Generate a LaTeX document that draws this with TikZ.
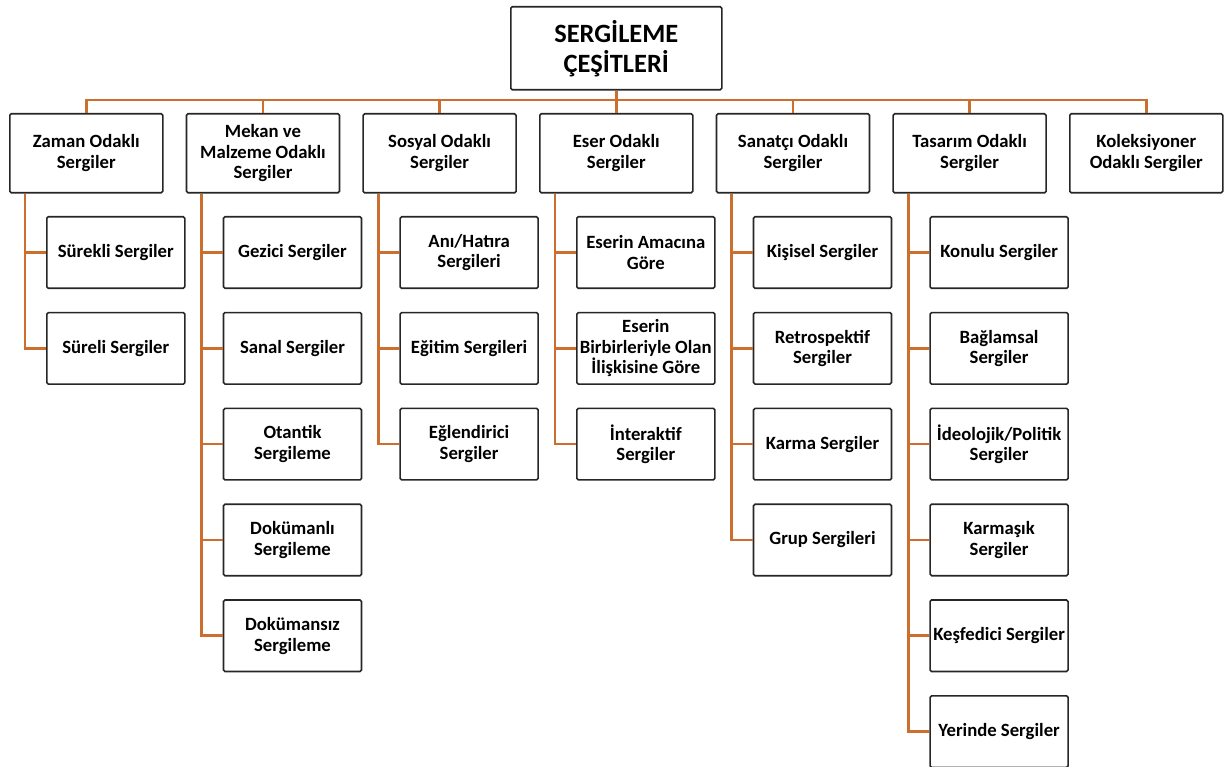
\documentclass[tikz,border=0pt]{standalone}
\usepackage{fontspec}
\setmainfont{Carlito}
\begin{document}
\begin{tikzpicture}[x=1pt,y=-1pt,
  box/.style={draw=black!85,line width=1.6pt,rounded corners=1.5pt,fill=white,align=center,
    anchor=north west,inner sep=1pt,font=\fontsize{18.7}{20.6}\selectfont\bfseries},
  top/.style={box,minimum width=153pt,minimum height=79pt},
  kid/.style={box,minimum width=138pt,minimum height=71.5pt},
  conn/.style={draw={rgb,255:red,204;green,110;blue,46},line width=2.6pt}]
\useasboundingbox (0,0) rectangle (1226,767);
\coordinate (bus) at (0,100);
% root
\node[box,minimum width=211pt,minimum height=83pt,font=\fontsize{26.4}{30}\selectfont\bfseries] (root) at (510,6) {SERGİLEME\\ÇEŞİTLERİ};
% top row
\node[top] (Z) at (9,113) {Zaman Odaklı\\Sergiler};
\node[top] (M) at (185.7,113) {Mekan ve\\Malzeme Odaklı\\Sergiler};
\node[top] (S) at (362.3,113) {Sosyal Odaklı\\Sergiler};
\node[top] (E) at (539,113) {Eser Odaklı\\Sergiler};
\node[top] (A) at (715.7,113) {Sanatçı Odaklı\\Sergiler};
\node[top] (T) at (892.3,113) {Tasarım Odaklı\\Sergiler};
\node[top] (K) at (1069,113) {Koleksiyoner\\Odaklı Sergiler};
% bus
\draw[conn] (Z.north) -- (Z.north |- bus) -- (K.north |- bus) -- (K.north);
\foreach \n in {M,S,A,T} \draw[conn] (\n.north) -- (\n.north |- bus);
\draw[conn] (root.south) -- (E.north);
% children Zaman
\node[kid] (Z1) at (46,216) {Sürekli Sergiler};
\node[kid] (Z2) at (46,311.8) {Süreli Sergiler};
% Mekan
\node[kid] (M1) at (222.7,216) {Gezici Sergiler};
\node[kid] (M2) at (222.7,311.8) {Sanal Sergiler};
\node[kid] (M3) at (222.7,407.6) {Otantik\\Sergileme};
\node[kid] (M4) at (222.7,503.4) {Dokümanlı\\Sergileme};
\node[kid] (M5) at (222.7,599.2) {Dokümansız\\Sergileme};
% Sosyal
\node[kid] (S1) at (399.3,216) {Anı/Hatıra\\Sergileri};
\node[kid] (S2) at (399.3,311.8) {Eğitim Sergileri};
\node[kid] (S3) at (399.3,407.6) {Eğlendirici\\Sergiler};
% Eser
\node[kid] (E1) at (576,216) {Eserin Amacına\\Göre};
\node[kid] (E2) at (576,311.8) {Eserin\\Birbirleriyle Olan\\İlişkisine Göre};
\node[kid] (E3) at (576,407.6) {İnteraktif\\Sergiler};
% Sanatci
\node[kid] (A1) at (752.7,216) {Kişisel Sergiler};
\node[kid] (A2) at (752.7,311.8) {Retrospektif\\Sergiler};
\node[kid] (A3) at (752.7,407.6) {Karma Sergiler};
\node[kid] (A4) at (752.7,503.4) {Grup Sergileri};
% Tasarim
\node[kid] (T1) at (929.3,216) {Konulu Sergiler};
\node[kid] (T2) at (929.3,311.8) {Bağlamsal\\Sergiler};
\node[kid] (T3) at (929.3,407.6) {İdeolojik/Politik\\Sergiler};
\node[kid] (T4) at (929.3,503.4) {Karmaşık\\Sergiler};
\node[kid] (T5) at (929.3,599.2) {Keşfedici Sergiler};
\node[kid] (T6) at (929.3,695) {Yerinde Sergiler};
% connectors
\foreach \p/\kids in {Z/{Z1,Z2},M/{M1,M2,M3,M4,M5},S/{S1,S2,S3},E/{E1,E2,E3},A/{A1,A2,A3,A4},T/{T1,T2,T3,T4,T5,T6}}
  \foreach \c in \kids
    \draw[conn] ([xshift=16pt]\p.south west) |- (\c.west);
\end{tikzpicture}
\end{document}
